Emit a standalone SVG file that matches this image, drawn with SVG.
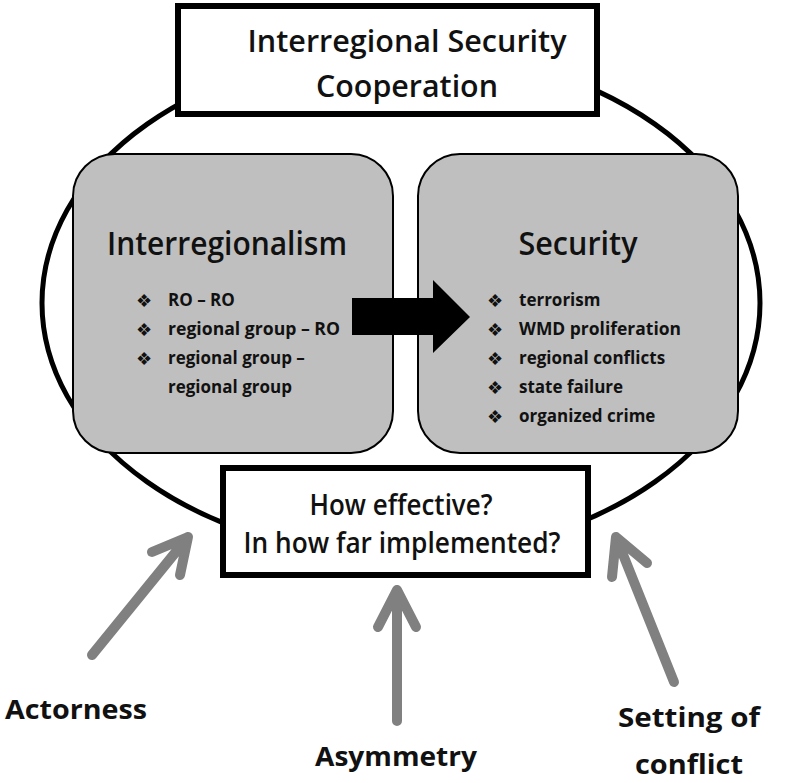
<svg xmlns="http://www.w3.org/2000/svg" width="799" height="783" viewBox="0 0 799 783">
<style>
.t{font-family:"Open Sans","Liberation Sans",sans-serif;fill:#111;}
.big{font-size:30px;font-weight:600;}
.mid{font-size:28px;font-weight:600;}
.head{font-size:33px;font-weight:600;}
.lab{font-size:26px;font-weight:bold;}
.bul{font-family:"Open Sans","Liberation Sans",sans-serif;font-size:17px;font-weight:bold;fill:#111;}
.dia{font-family:"DejaVu Sans",sans-serif;font-size:18px;fill:#111;}
.gbox{fill:#bfbfbf;stroke:#000;stroke-width:2;}
.wbox{fill:#fff;stroke:#000;stroke-width:6;}
.garrow{fill:none;stroke:#808080;stroke-width:10;stroke-linecap:round;stroke-linejoin:round;}
</style>
<rect width="799" height="783" fill="#fff"/>
<g id="frame">
<ellipse cx="401" cy="303" rx="359" ry="253" fill="none" stroke="#000" stroke-width="5"/>
</g>
<g id="interregionalism">
<rect class="gbox" x="73" y="154" width="320" height="299" rx="42" ry="42"/>
<text class="t head" x="227" y="255" text-anchor="middle" textLength="240" lengthAdjust="spacingAndGlyphs">Interregionalism</text>
<text class="dia" x="136" y="307">❖</text><text class="bul" x="168" y="306">RO – RO</text>
<text class="dia" x="136" y="336">❖</text><text class="bul" x="168" y="335" textLength="172" lengthAdjust="spacingAndGlyphs">regional group – RO</text>
<text class="dia" x="136" y="365">❖</text><text class="bul" x="168" y="364">regional group –</text>
<text class="bul" x="168" y="393">regional group</text>
</g>
<g id="security">
<rect class="gbox" x="418" y="154" width="320" height="299" rx="42" ry="42"/>
<text class="t head" x="578" y="255" text-anchor="middle" textLength="119" lengthAdjust="spacingAndGlyphs">Security</text>
<text class="dia" x="487" y="307">❖</text><text class="bul" x="519" y="306">terrorism</text>
<text class="dia" x="487" y="336">❖</text><text class="bul" x="519" y="335" textLength="162" lengthAdjust="spacingAndGlyphs">WMD proliferation</text>
<text class="dia" x="487" y="365">❖</text><text class="bul" x="519" y="364">regional conflicts</text>
<text class="dia" x="487" y="394">❖</text><text class="bul" x="519" y="393">state failure</text>
<text class="dia" x="487" y="423">❖</text><text class="bul" x="519" y="422">organized crime</text>
</g>
<g id="title">
<rect class="wbox" x="178" y="6" width="419" height="108"/>
<text class="t big" x="407" y="52" text-anchor="middle" textLength="319" lengthAdjust="spacingAndGlyphs">Interregional Security</text>
<text class="t big" x="407" y="97" text-anchor="middle" textLength="182" lengthAdjust="spacingAndGlyphs">Cooperation</text>
</g>
<g id="question">
<rect class="wbox" x="223" y="468" width="365" height="107"/>
<text class="t mid" x="401" y="515" text-anchor="middle" textLength="183" lengthAdjust="spacingAndGlyphs">How effective?</text>
<text class="t mid" x="402" y="553" text-anchor="middle" textLength="317" lengthAdjust="spacingAndGlyphs">In how far implemented?</text>
</g>
<g id="actorness"><text class="t lab" x="5" y="719" textLength="142" lengthAdjust="spacingAndGlyphs">Actorness</text></g>
<g id="asymmetry"><text class="t lab" x="315" y="766" textLength="162" lengthAdjust="spacingAndGlyphs">Asymmetry</text></g>
<g id="setting">
<text class="t lab" x="689" y="727" text-anchor="middle" textLength="142" lengthAdjust="spacingAndGlyphs">Setting of</text>
<text class="t lab" x="689" y="774" text-anchor="middle" textLength="108" lengthAdjust="spacingAndGlyphs">conflict</text>
</g>
<g id="connectors">
<polygon points="352,298 433,298 433,280 470,317 433,353 433,335 352,335" fill="#000"/>
<path class="garrow" d="M92,655 L188,537 M152,552 L188,537 L180,575"/>
<path class="garrow" d="M397,721 L397,590 M378,627 L397,590 L416,627"/>
<path class="garrow" d="M674,682 L616,537 M612,577 L616,537 L647,563"/>
</g>
</svg>
